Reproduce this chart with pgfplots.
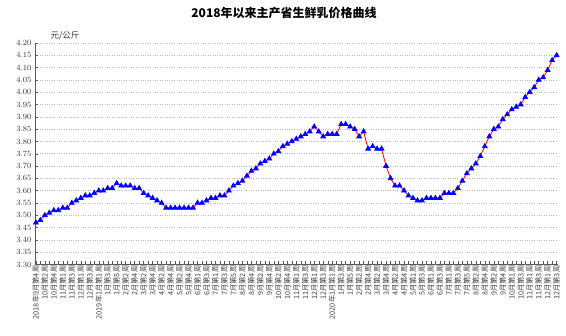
\documentclass[border=0pt]{standalone}
\usepackage{pgfplots}
\pgfplotsset{compat=1.18}
\usepackage{fontspec}
\setmainfont{Liberation Serif}
\newfontfamily\cjk{Noto Sans CJK SC}
\begin{document}
\begin{tikzpicture}[x=1pt,y=1pt]
\useasboundingbox (0,0) rectangle (566,336);
\node[font=\cjk\bfseries\fontsize{12}{12}\selectfont] at (284,323) {2018年以来主产省生鲜乳价格曲线};
\node[font=\cjk\fontsize{8.5}{8.5}\selectfont, anchor=west, text=black!80] at (47,300) {元/公斤};
\begin{axis}[
  at={(35pt,71.5pt)}, anchor=south west,
  width=523pt, height=221.5pt, scale only axis,
  xmin=-0.2, xmax=116.3, ymin=3.30, ymax=4.20,
  axis lines*=left,
  axis line style={gray!70!black, line width=0.5pt},
  clip=false,
  ytick={3.30,3.35,3.40,3.45,3.50,3.55,3.60,3.65,3.70,3.75,3.80,3.85,3.90,3.95,4.00,4.05,4.10,4.15,4.20},
  yticklabel style={font=\fontsize{8.3}{8.3}\selectfont, text=black!80, /pgf/number format/.cd, fixed, fixed zerofill, precision=2},
  ymajorgrids,
  major grid style={gray!55, dotted, line width=0.5pt},
  xtick={0,2,...,116},
  minor xtick={1,3,...,115},
  xticklabels={2018年9月第4周,10月第2周,10月第4周,11月第1周,11月第3周,12月第1周,12月第3周,2019年1月第1周,1月第3周,1月第5周,2月第2周,2月第4周,3月第2周,3月第4周,4月第2周,4月第4周,5月第2周,5月第4周,6月第1周,6月第3周,7月第1周,7月第3周,7月第5周,8月第2周,8月第4周,9月第2周,9月第4周,10月第2周,10月第4周,11月第1周,11月第3周,12月第1周,12月第3周,2020年1月第1周,1月第3周,1月第5周,2月第2周,2月第4周,3月第2周,3月第4周,4月第2周,4月第4周,5月第1周,5月第3周,6月第1周,6月第3周,7月第1周,7月第3周,7月第5周,8月第2周,8月第4周,9月第2周,9月第4周,10月第1周,10月第3周,11月第1周,11月第3周,12月第1周,12月第3周},
  xticklabel style={rotate=90, anchor=east, font=\cjk\fontsize{7.3}{7.3}\selectfont, inner sep=1pt, text=black!75},
  tick align=inside,
  major tick length=3pt, minor tick length=3pt,
  tick style={gray!70!black, line width=0.4pt},
]
\addplot[red, line width=0.8pt, mark=triangle*, mark size=2.7pt, mark options={fill=blue, draw=blue, solid}] table {
x y
0 3.47
1 3.48
2 3.50
3 3.51
4 3.52
5 3.52
6 3.53
7 3.53
8 3.55
9 3.56
10 3.57
11 3.58
12 3.58
13 3.59
14 3.60
15 3.60
16 3.61
17 3.61
18 3.63
19 3.62
20 3.62
21 3.62
22 3.61
23 3.61
24 3.59
25 3.58
26 3.57
27 3.56
28 3.55
29 3.53
30 3.53
31 3.53
32 3.53
33 3.53
34 3.53
35 3.53
36 3.55
37 3.55
38 3.56
39 3.57
40 3.57
41 3.58
42 3.58
43 3.60
44 3.62
45 3.63
46 3.64
47 3.66
48 3.68
49 3.69
50 3.71
51 3.72
52 3.73
53 3.75
54 3.76
55 3.78
56 3.79
57 3.80
58 3.81
59 3.82
60 3.83
61 3.84
62 3.86
63 3.84
64 3.82
65 3.83
66 3.83
67 3.83
68 3.87
69 3.87
70 3.86
71 3.85
72 3.82
73 3.84
74 3.77
75 3.78
76 3.77
77 3.77
78 3.70
79 3.65
80 3.62
81 3.62
82 3.60
83 3.58
84 3.57
85 3.56
86 3.56
87 3.57
88 3.57
89 3.57
90 3.57
91 3.59
92 3.59
93 3.59
94 3.61
95 3.64
96 3.67
97 3.69
98 3.71
99 3.74
100 3.78
101 3.82
102 3.85
103 3.86
104 3.89
105 3.91
106 3.93
107 3.94
108 3.95
109 3.98
110 4.00
111 4.02
112 4.05
113 4.06
114 4.09
115 4.13
116 4.15
};
\end{axis}
\end{tikzpicture}
\end{document}
